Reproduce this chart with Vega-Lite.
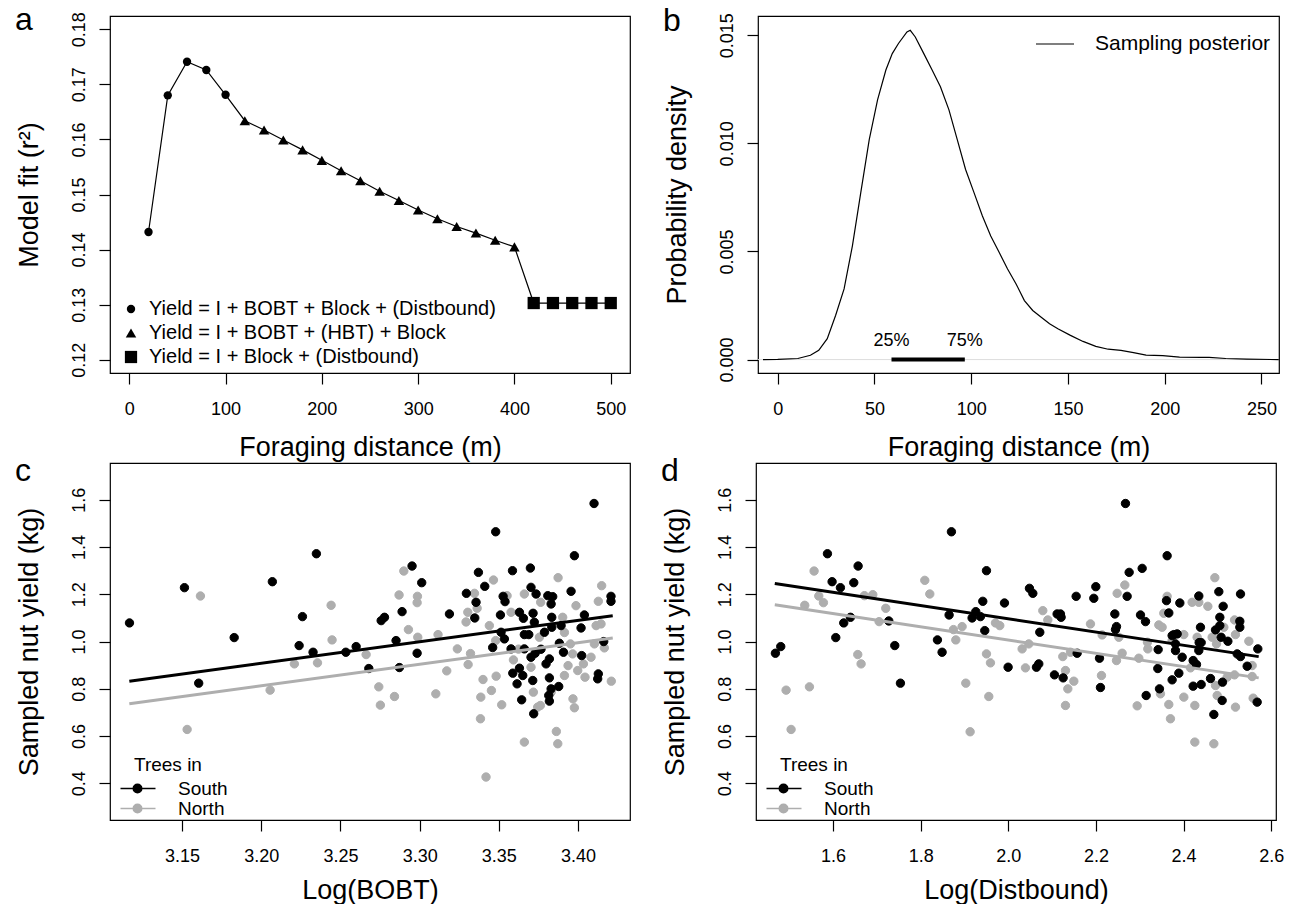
{
"$schema": "https://vega.github.io/schema/vega-lite/v6.json",
"padding": {"left": 14, "top": 3, "right": 0, "bottom": 0},
"background": "white",
"spacing": -7,
"resolve": {"scale": {"fill": "independent", "stroke": "independent", "shape": "independent", "size": "independent"}, "legend": {"fill": "independent", "stroke": "independent", "shape": "independent", "size": "independent"}},
"config": {
  "font": "Liberation Sans",
  "view": {"stroke": "black", "strokeWidth": 1.2},
  "axis": {"domain": false, "grid": false, "ticks": true, "tickColor": "black", "tickSize": 11, "tickWidth": 1.2,
    "labelFontSize": 18, "labelColor": "black", "titleFontSize": 27, "titleFontWeight": "normal", "titleColor": "black",
    "labelFont": "Liberation Sans", "titleFont": "Liberation Sans", "labelFlush": false, "labelOverlap": false, "labelBound": false},
  "axisY": {"labelAngle": -90, "labelAlign": "center", "labelBaseline": "bottom", "labelPadding": 11, "titlePadding": 27},
  "axisX": {"labelPadding": 16, "titlePadding": 16},
  "legend": {"labelFont": "Liberation Sans", "titleFont": "Liberation Sans", "labelColor": "black", "titleColor": "black", "titleFontWeight": "normal", "padding": 0, "labelLimit": 0},
  "title": {"anchor": "start", "frame": "bounds", "fontSize": 32, "fontWeight": "normal", "offset": -25, "baseline": "alphabetic", "color": "black", "font": "Liberation Sans"}
},
"datasets": {
  "fit": [
    {"d":20,"r2":0.1432,"model":"Yield = I + BOBT + Block + (Distbound)"},
    {"d":40,"r2":0.1680,"model":"Yield = I + BOBT + Block + (Distbound)"},
    {"d":60,"r2":0.1741,"model":"Yield = I + BOBT + Block + (Distbound)"},
    {"d":80,"r2":0.1726,"model":"Yield = I + BOBT + Block + (Distbound)"},
    {"d":100,"r2":0.1681,"model":"Yield = I + BOBT + Block + (Distbound)"},
    {"d":120,"r2":0.1634,"model":"Yield = I + BOBT + (HBT) + Block"},
    {"d":140,"r2":0.1617,"model":"Yield = I + BOBT + (HBT) + Block"},
    {"d":160,"r2":0.1599,"model":"Yield = I + BOBT + (HBT) + Block"},
    {"d":180,"r2":0.1581,"model":"Yield = I + BOBT + (HBT) + Block"},
    {"d":200,"r2":0.1562,"model":"Yield = I + BOBT + (HBT) + Block"},
    {"d":220,"r2":0.1543,"model":"Yield = I + BOBT + (HBT) + Block"},
    {"d":240,"r2":0.1525,"model":"Yield = I + BOBT + (HBT) + Block"},
    {"d":260,"r2":0.1506,"model":"Yield = I + BOBT + (HBT) + Block"},
    {"d":280,"r2":0.1489,"model":"Yield = I + BOBT + (HBT) + Block"},
    {"d":300,"r2":0.1472,"model":"Yield = I + BOBT + (HBT) + Block"},
    {"d":320,"r2":0.1456,"model":"Yield = I + BOBT + (HBT) + Block"},
    {"d":340,"r2":0.1442,"model":"Yield = I + BOBT + (HBT) + Block"},
    {"d":360,"r2":0.1430,"model":"Yield = I + BOBT + (HBT) + Block"},
    {"d":380,"r2":0.1417,"model":"Yield = I + BOBT + (HBT) + Block"},
    {"d":400,"r2":0.1405,"model":"Yield = I + BOBT + (HBT) + Block"},
    {"d":420,"r2":0.1303,"model":"Yield = I + Block + (Distbound)"},
    {"d":440,"r2":0.1303,"model":"Yield = I + Block + (Distbound)"},
    {"d":460,"r2":0.1303,"model":"Yield = I + Block + (Distbound)"},
    {"d":480,"r2":0.1303,"model":"Yield = I + Block + (Distbound)"},
    {"d":500,"r2":0.1303,"model":"Yield = I + Block + (Distbound)"}
  ],
  "dens": [
    {"x":-7.6,"density":0},{"x":0,"density":0.00001},{"x":10.4,"density":0.00005},{"x":16.9,"density":0.0002},{"x":21.2,"density":0.00043},
    {"x":25.6,"density":0.00097},{"x":29.9,"density":0.00204},{"x":34.3,"density":0.00327},{"x":38.6,"density":0.00526},{"x":42.9,"density":0.00771},
    {"x":47.3,"density":0.01017},{"x":51.6,"density":0.01201},{"x":55.9,"density":0.01339},{"x":59.2,"density":0.01415},{"x":62.4,"density":0.01462},
    {"x":66.8,"density":0.01515},{"x":68.5,"density":0.01523},{"x":71.1,"density":0.01492},{"x":75.5,"density":0.01415},{"x":79.8,"density":0.01339},
    {"x":84.1,"density":0.01262},{"x":88.5,"density":0.01155},{"x":92.8,"density":0.01017},{"x":97.1,"density":0.00879},{"x":101.5,"density":0.00771},
    {"x":105.8,"density":0.00664},{"x":110.1,"density":0.00572},{"x":114.5,"density":0.00495},{"x":118.8,"density":0.00419},{"x":123.2,"density":0.0035},
    {"x":127.5,"density":0.00273},{"x":131.8,"density":0.00227},{"x":136.2,"density":0.00196},{"x":140.5,"density":0.00166},{"x":144.8,"density":0.00143},
    {"x":151.3,"density":0.00112},{"x":157.8,"density":0.00084},{"x":164.4,"density":0.00061},{"x":170.8,"density":0.00048},{"x":177.4,"density":0.00043},
    {"x":183.9,"density":0.00032},{"x":190.4,"density":0.00021},{"x":199,"density":0.00018},{"x":207.7,"density":0.00011},{"x":218.6,"density":0.0001},
    {"x":223,"density":0.0001},{"x":231.6,"density":0.00005},{"x":242.4,"density":0.00002},{"x":259,"density":0}
  ],
  "baseline": [{"density": 0}],
  "quart": [{"x":58.8,"label":"25%"},{"x":96.7,"label":"75%"}],
  "fitC": [
    {"x":3.1167,"y":0.832,"g":"South"},{"x":3.4219,"y":1.1095,"g":"South"},
    {"x":3.1167,"y":0.736,"g":"North"},{"x":3.4219,"y":1.0152,"g":"North"}
  ],
  "fitD": [
    {"x":1.4669,"y":1.246,"g":"South"},{"x":2.5715,"y":0.936,"g":"South"},
    {"x":1.4669,"y":1.156,"g":"North"},{"x":2.5715,"y":0.846,"g":"North"}
  ],
  "treesC": [
    {"x":3.1616,"y":1.1927,"g":"North"},{"x":3.2209,"y":0.9052,"g":"North"},{"x":3.2355,"y":0.9095,"g":"North"},{"x":3.2056,"y":0.7939,"g":"North"},
    {"x":3.1532,"y":0.6275,"g":"North"},{"x":3.2441,"y":1.1533,"g":"North"},{"x":3.2447,"y":1.0067,"g":"North"},{"x":3.2662,"y":0.9447,"g":"North"},
    {"x":3.2742,"y":0.8080,"g":"North"},{"x":3.2752,"y":0.7305,"g":"North"},{"x":3.2841,"y":0.7671,"g":"North"},{"x":3.2870,"y":1.1970,"g":"North"},
    {"x":3.2900,"y":1.2984,"g":"North"},{"x":3.2929,"y":1.0504,"g":"North"},{"x":3.2986,"y":1.1913,"g":"North"},{"x":3.2984,"y":1.1645,"g":"North"},
    {"x":3.2988,"y":1.0180,"g":"North"},{"x":3.3102,"y":0.7784,"g":"North"},{"x":3.3116,"y":1.0293,"g":"North"},{"x":3.3171,"y":0.8756,"g":"North"},
    {"x":3.3238,"y":0.9687,"g":"North"},{"x":3.3304,"y":1.1237,"g":"North"},{"x":3.3293,"y":1.0828,"g":"North"},{"x":3.3306,"y":0.9024,"g":"North"},
    {"x":3.3321,"y":0.9489,"g":"North"},{"x":3.3346,"y":1.2040,"g":"North"},{"x":3.3363,"y":1.1406,"g":"North"},{"x":3.3386,"y":0.7643,"g":"North"},
    {"x":3.3384,"y":0.6727,"g":"North"},{"x":3.3400,"y":0.8390,"g":"North"},{"x":3.3419,"y":0.4260,"g":"North"},{"x":3.3440,"y":1.0673,"g":"North"},
    {"x":3.3453,"y":0.7925,"g":"North"},{"x":3.3466,"y":1.2604,"g":"North"},{"x":3.3483,"y":0.8531,"g":"North"},{"x":3.3480,"y":1.0039,"g":"North"},
    {"x":3.3518,"y":0.7319,"g":"North"},{"x":3.3552,"y":1.1941,"g":"North"},{"x":3.3577,"y":1.1237,"g":"North"},{"x":3.3592,"y":0.9221,"g":"North"},
    {"x":3.3661,"y":1.2012,"g":"North"},{"x":3.3661,"y":0.5740,"g":"North"},{"x":3.3718,"y":0.7854,"g":"North"},{"x":3.3703,"y":0.8911,"g":"North"},
    {"x":3.3745,"y":0.7220,"g":"North"},{"x":3.3762,"y":0.7291,"g":"North"},{"x":3.3764,"y":1.1660,"g":"North"},{"x":3.3830,"y":0.7854,"g":"North"},
    {"x":3.3863,"y":0.6191,"g":"North"},{"x":3.3872,"y":0.5669,"g":"North"},{"x":3.3874,"y":1.2703,"g":"North"},{"x":3.3914,"y":0.8559,"g":"North"},
    {"x":3.3903,"y":1.1025,"g":"North"},{"x":3.3937,"y":0.8980,"g":"North"},{"x":3.3952,"y":0.9898,"g":"North"},{"x":3.3968,"y":0.7572,"g":"North"},
    {"x":3.3977,"y":0.7192,"g":"North"},{"x":3.3987,"y":1.1518,"g":"North"},{"x":3.3966,"y":0.9475,"g":"North"},{"x":3.3998,"y":0.8770,"g":"North"},
    {"x":3.4034,"y":0.9052,"g":"North"},{"x":3.4044,"y":0.8489,"g":"North"},{"x":3.4082,"y":0.9334,"g":"North"},{"x":3.4103,"y":0.9898,"g":"North"},
    {"x":3.4114,"y":1.0673,"g":"North"},{"x":3.4128,"y":1.1702,"g":"North"},{"x":3.4149,"y":1.2364,"g":"North"},{"x":3.4145,"y":1.0744,"g":"North"},
    {"x":3.4166,"y":0.9729,"g":"North"},{"x":3.4210,"y":0.8319,"g":"North"},{"x":3.3624,"y":0.9677,"g":"North"},{"x":3.3756,"y":1.0180,"g":"North"},
    {"x":3.3914,"y":1.0380,"g":"North"},
    {"x":3.1168,"y":1.0786,"g":"South"},{"x":3.1515,"y":1.2280,"g":"South"},{"x":3.2070,"y":1.2533,"g":"South"},{"x":3.2348,"y":1.3717,"g":"South"},
    {"x":3.1829,"y":1.0166,"g":"South"},{"x":3.2260,"y":1.1054,"g":"South"},{"x":3.2239,"y":0.9828,"g":"South"},{"x":3.2327,"y":0.9545,"g":"South"},
    {"x":3.1605,"y":0.8235,"g":"South"},{"x":3.2534,"y":0.9545,"g":"South"},{"x":3.2599,"y":0.9785,"g":"South"},{"x":3.2679,"y":0.8855,"g":"South"},
    {"x":3.2757,"y":1.0884,"g":"South"},{"x":3.2778,"y":1.1025,"g":"South"},{"x":3.2851,"y":1.0039,"g":"South"},{"x":3.2872,"y":0.8897,"g":"South"},
    {"x":3.2889,"y":1.1265,"g":"South"},{"x":3.2952,"y":1.3196,"g":"South"},{"x":3.2984,"y":0.9503,"g":"South"},{"x":3.3013,"y":1.2491,"g":"South"},
    {"x":3.3188,"y":1.1166,"g":"South"},{"x":3.3295,"y":1.2040,"g":"South"},{"x":3.3348,"y":1.0997,"g":"South"},{"x":3.3356,"y":1.1660,"g":"South"},
    {"x":3.3371,"y":1.2928,"g":"South"},{"x":3.3411,"y":1.2336,"g":"South"},{"x":3.3461,"y":0.9743,"g":"South"},{"x":3.3480,"y":1.4647,"g":"South"},
    {"x":3.3510,"y":1.1124,"g":"South"},{"x":3.3514,"y":1.0391,"g":"South"},{"x":3.3527,"y":1.1913,"g":"South"},{"x":3.3539,"y":1.1688,"g":"South"},
    {"x":3.3535,"y":1.0109,"g":"South"},{"x":3.3586,"y":1.2999,"g":"South"},{"x":3.3577,"y":0.9687,"g":"South"},{"x":3.3588,"y":0.8658,"g":"South"},
    {"x":3.3615,"y":0.8207,"g":"South"},{"x":3.3630,"y":1.1237,"g":"South"},{"x":3.3630,"y":0.8869,"g":"South"},{"x":3.3644,"y":0.7530,"g":"South"},
    {"x":3.3655,"y":1.0983,"g":"South"},{"x":3.3661,"y":0.9687,"g":"South"},{"x":3.3651,"y":0.8559,"g":"South"},{"x":3.3661,"y":1.0293,"g":"South"},
    {"x":3.3689,"y":1.0293,"g":"South"},{"x":3.3699,"y":1.3111,"g":"South"},{"x":3.3703,"y":1.2294,"g":"South"},{"x":3.3716,"y":1.1195,"g":"South"},
    {"x":3.3724,"y":1.0814,"g":"South"},{"x":3.3714,"y":0.8348,"g":"South"},{"x":3.3720,"y":0.6938,"g":"South"},{"x":3.3735,"y":1.2012,"g":"South"},
    {"x":3.3703,"y":0.9334,"g":"South"},{"x":3.3729,"y":0.9503,"g":"South"},{"x":3.3766,"y":0.9672,"g":"South"},{"x":3.3788,"y":1.0391,"g":"South"},
    {"x":3.3798,"y":0.9052,"g":"South"},{"x":3.3809,"y":1.1941,"g":"South"},{"x":3.3819,"y":0.9263,"g":"South"},{"x":3.3819,"y":0.8460,"g":"South"},
    {"x":3.3830,"y":1.1589,"g":"South"},{"x":3.3840,"y":1.1899,"g":"South"},{"x":3.3834,"y":1.1025,"g":"South"},{"x":3.3834,"y":1.0603,"g":"South"},
    {"x":3.3819,"y":0.7474,"g":"South"},{"x":3.3815,"y":0.7713,"g":"South"},{"x":3.3830,"y":0.7995,"g":"South"},{"x":3.3878,"y":0.8094,"g":"South"},
    {"x":3.3882,"y":0.9926,"g":"South"},{"x":3.3893,"y":1.0673,"g":"South"},{"x":3.3908,"y":0.9545,"g":"South"},{"x":3.3956,"y":1.2125,"g":"South"},
    {"x":3.3977,"y":1.3633,"g":"South"},{"x":3.4019,"y":1.0574,"g":"South"},{"x":3.4023,"y":0.9404,"g":"South"},{"x":3.4040,"y":1.1124,"g":"South"},
    {"x":3.4101,"y":1.5845,"g":"South"},{"x":3.4124,"y":0.8418,"g":"South"},{"x":3.4128,"y":0.8629,"g":"South"},{"x":3.4162,"y":0.9997,"g":"South"},
    {"x":3.4208,"y":1.1913,"g":"South"},{"x":3.4208,"y":1.1702,"g":"South"}
  ],
  "treesD": [
    {"x":1.4927,"y":0.7939,"g":"North"},{"x":1.5041,"y":0.6275,"g":"North"},{"x":1.5460,"y":0.8080,"g":"North"},{"x":1.5353,"y":1.1533,"g":"North"},
    {"x":1.5566,"y":1.2984,"g":"North"},{"x":1.5673,"y":1.1927,"g":"North"},{"x":1.5779,"y":1.1645,"g":"North"},{"x":1.6715,"y":1.1941,"g":"North"},
    {"x":1.6906,"y":1.1984,"g":"North"},{"x":1.6563,"y":0.9447,"g":"North"},{"x":1.6639,"y":0.9052,"g":"North"},{"x":1.7050,"y":1.0842,"g":"North"},
    {"x":1.7202,"y":1.1406,"g":"North"},{"x":1.8093,"y":1.2590,"g":"North"},{"x":1.8207,"y":1.2012,"g":"North"},{"x":1.8747,"y":1.0504,"g":"North"},
    {"x":1.8801,"y":1.0067,"g":"North"},{"x":1.8945,"y":1.0631,"g":"North"},{"x":1.9029,"y":0.8235,"g":"North"},{"x":1.9128,"y":0.6177,"g":"North"},
    {"x":1.9501,"y":0.9475,"g":"North"},{"x":1.9592,"y":0.9095,"g":"North"},{"x":1.9554,"y":0.7671,"g":"North"},{"x":1.9706,"y":1.0786,"g":"North"},
    {"x":1.9805,"y":1.0673,"g":"North"},{"x":2.0315,"y":0.9687,"g":"North"},{"x":2.0391,"y":0.8883,"g":"North"},{"x":2.0467,"y":0.9898,"g":"North"},
    {"x":2.0787,"y":1.1307,"g":"North"},{"x":2.0901,"y":1.0913,"g":"North"},{"x":2.1243,"y":0.9362,"g":"North"},{"x":2.1304,"y":0.8770,"g":"North"},
    {"x":2.1304,"y":0.7291,"g":"North"},{"x":2.1358,"y":0.7995,"g":"North"},{"x":2.1495,"y":0.8319,"g":"North"},{"x":2.1418,"y":0.9545,"g":"North"},
    {"x":2.1875,"y":1.0744,"g":"North"},{"x":2.2126,"y":0.8559,"g":"North"},{"x":2.2142,"y":1.0278,"g":"North"},{"x":2.2484,"y":1.2040,"g":"North"},
    {"x":2.2522,"y":1.0180,"g":"North"},{"x":2.2659,"y":1.2392,"g":"North"},{"x":2.2598,"y":0.9503,"g":"North"},{"x":2.2469,"y":0.9193,"g":"North"},
    {"x":2.2941,"y":0.7276,"g":"North"},{"x":2.2979,"y":0.9292,"g":"North"},{"x":2.3176,"y":0.9968,"g":"North"},{"x":2.3184,"y":0.9687,"g":"North"},
    {"x":2.3435,"y":1.0701,"g":"North"},{"x":2.3511,"y":1.0603,"g":"North"},{"x":2.3473,"y":0.7784,"g":"North"},{"x":2.3549,"y":1.1195,"g":"North"},
    {"x":2.3625,"y":1.1913,"g":"North"},{"x":2.3663,"y":0.7333,"g":"North"},{"x":2.3701,"y":0.6727,"g":"North"},{"x":2.3739,"y":1.0039,"g":"North"},
    {"x":2.4006,"y":0.7643,"g":"North"},{"x":2.4006,"y":1.0293,"g":"North"},{"x":2.4158,"y":0.8883,"g":"North"},{"x":2.4196,"y":1.1660,"g":"North"},
    {"x":2.4257,"y":0.7291,"g":"North"},{"x":2.4257,"y":0.5740,"g":"North"},{"x":2.4310,"y":1.0180,"g":"North"},{"x":2.4348,"y":1.1660,"g":"North"},
    {"x":2.4554,"y":1.1490,"g":"North"},{"x":2.4691,"y":0.5669,"g":"North"},{"x":2.4714,"y":1.2703,"g":"North"},{"x":2.4729,"y":0.8136,"g":"North"},
    {"x":2.4767,"y":0.7713,"g":"North"},{"x":2.4653,"y":1.0180,"g":"North"},{"x":2.4995,"y":0.8489,"g":"North"},{"x":2.5163,"y":0.8587,"g":"North"},
    {"x":2.5185,"y":0.7220,"g":"North"},{"x":2.5163,"y":1.0913,"g":"North"},{"x":2.5185,"y":1.0293,"g":"North"},{"x":2.5490,"y":1.0011,"g":"North"},
    {"x":2.5566,"y":0.8517,"g":"North"},{"x":2.5566,"y":0.8982,"g":"North"},{"x":2.5589,"y":0.7601,"g":"North"},{"x":2.4919,"y":1.0603,"g":"North"},
    {"x":2.4752,"y":0.9898,"g":"North"},
    {"x":1.4683,"y":0.9503,"g":"South"},{"x":1.4805,"y":0.9785,"g":"South"},{"x":1.5871,"y":1.3717,"g":"South"},{"x":1.5977,"y":1.2533,"g":"South"},
    {"x":1.6167,"y":1.2280,"g":"South"},{"x":1.6472,"y":1.2491,"g":"South"},{"x":1.6571,"y":1.3196,"g":"South"},{"x":1.6243,"y":1.0786,"g":"South"},
    {"x":1.6396,"y":1.1025,"g":"South"},{"x":1.6061,"y":1.0166,"g":"South"},{"x":1.7271,"y":1.0870,"g":"South"},{"x":1.7408,"y":0.9828,"g":"South"},
    {"x":1.7537,"y":0.8235,"g":"South"},{"x":1.8701,"y":1.4647,"g":"South"},{"x":1.8382,"y":1.0067,"g":"South"},{"x":1.8488,"y":0.9545,"g":"South"},
    {"x":1.8648,"y":1.1124,"g":"South"},{"x":1.9173,"y":1.0997,"g":"South"},{"x":1.9257,"y":1.1265,"g":"South"},{"x":1.9363,"y":1.1054,"g":"South"},
    {"x":1.9417,"y":1.1702,"g":"South"},{"x":1.9462,"y":1.0462,"g":"South"},{"x":1.9501,"y":1.2999,"g":"South"},
    {"x":1.9912,"y":1.1631,"g":"South"},{"x":1.9995,"y":0.8911,"g":"South"},{"x":2.0482,"y":1.2252,"g":"South"},{"x":2.0559,"y":1.2040,"g":"South"},
    {"x":2.0718,"y":1.0391,"g":"South"},{"x":2.0642,"y":0.8911,"g":"South"},{"x":2.0695,"y":0.9052,"g":"South"},{"x":2.1053,"y":0.8587,"g":"South"},
    {"x":2.1114,"y":1.1166,"g":"South"},{"x":2.1190,"y":1.1166,"g":"South"},{"x":2.1205,"y":1.1025,"g":"South"},{"x":2.1251,"y":0.8460,"g":"South"},
    {"x":2.1548,"y":1.1913,"g":"South"},{"x":2.1571,"y":0.9503,"g":"South"},{"x":2.1951,"y":1.1829,"g":"South"},{"x":2.1997,"y":1.2322,"g":"South"},
    {"x":2.2081,"y":0.9292,"g":"South"},{"x":2.2103,"y":0.8051,"g":"South"},{"x":2.2431,"y":1.1166,"g":"South"},{"x":2.2469,"y":1.0631,"g":"South"},
    {"x":2.2446,"y":1.0504,"g":"South"},{"x":2.2674,"y":1.5845,"g":"South"},{"x":2.2712,"y":1.1913,"g":"South"},{"x":2.2758,"y":1.2928,"g":"South"},
    {"x":2.3055,"y":1.3097,"g":"South"},{"x":2.3017,"y":1.1124,"g":"South"},{"x":2.3131,"y":1.0842,"g":"South"},{"x":2.3146,"y":0.7713,"g":"South"},
    {"x":2.3420,"y":0.9658,"g":"South"},{"x":2.3412,"y":0.8855,"g":"South"},{"x":2.3450,"y":0.7995,"g":"South"},{"x":2.3610,"y":1.1730,"g":"South"},
    {"x":2.3625,"y":1.3633,"g":"South"},{"x":2.3663,"y":1.1209,"g":"South"},{"x":2.3915,"y":1.1631,"g":"South"},{"x":2.3739,"y":0.8376,"g":"South"},
    {"x":2.3739,"y":1.0250,"g":"South"},{"x":2.3778,"y":1.0293,"g":"South"},{"x":2.3854,"y":1.0321,"g":"South"},{"x":2.3816,"y":0.9898,"g":"South"},
    {"x":2.3816,"y":0.9616,"g":"South"},{"x":2.3892,"y":0.8658,"g":"South"},{"x":2.3968,"y":0.9334,"g":"South"},{"x":2.4219,"y":0.9193,"g":"South"},
    {"x":2.4295,"y":0.9024,"g":"South"},{"x":2.4348,"y":1.1927,"g":"South"},{"x":2.4386,"y":1.0603,"g":"South"},{"x":2.4356,"y":0.9954,"g":"South"},
    {"x":2.4348,"y":0.9616,"g":"South"},{"x":2.4402,"y":0.9954,"g":"South"},{"x":2.4219,"y":0.8108,"g":"South"},{"x":2.4402,"y":0.8179,"g":"South"},
    {"x":2.4615,"y":0.8432,"g":"South"},{"x":2.4691,"y":0.6910,"g":"South"},{"x":2.4729,"y":1.0490,"g":"South"},{"x":2.4805,"y":1.2111,"g":"South"},
    {"x":2.4828,"y":1.1025,"g":"South"},{"x":2.4828,"y":1.0673,"g":"South"},{"x":2.4904,"y":1.1490,"g":"South"},{"x":2.4858,"y":1.0180,"g":"South"},
    {"x":2.4889,"y":0.8277,"g":"South"},{"x":2.4881,"y":0.7502,"g":"South"},{"x":2.5011,"y":1.0011,"g":"South"},{"x":2.5224,"y":0.9475,"g":"South"},
    {"x":2.5300,"y":0.9362,"g":"South"},{"x":2.5284,"y":1.0856,"g":"South"},{"x":2.5284,"y":1.0603,"g":"South"},{"x":2.5300,"y":1.2012,"g":"South"},
    {"x":2.5452,"y":0.8954,"g":"South"},{"x":2.5695,"y":0.9687,"g":"South"},{"x":2.5680,"y":0.7431,"g":"South"}
  ]
},
"vconcat": [
  {"spacing": 31,
   "resolve": {"scale": {"fill": "independent", "stroke": "independent", "shape": "independent", "size": "independent"}, "legend": {"fill": "independent", "stroke": "independent", "shape": "independent", "size": "independent"}},
   "hconcat": [
    {
      "title": {"text": "a"},
      "width": 520, "height": 357,
      "data": {"name": "fit"},
      "encoding": {
        "x": {"field": "d", "type": "quantitative", "title": "Foraging distance (m)", "scale": {"domain": [-20, 520], "nice": false, "zero": false}, "axis": {"values": [0,100,200,300,400,500]}},
        "y": {"field": "r2", "type": "quantitative", "title": "Model fit (r²)", "scale": {"domain": [0.1176, 0.1824], "nice": false, "zero": false}, "axis": {"values": [0.12,0.13,0.14,0.15,0.16,0.17,0.18], "format": ".2f"}}
      },
      "layer": [
        {"mark": {"type": "line", "color": "black", "strokeWidth": 1.2}},
        {"mark": {"type": "point", "filled": true, "opacity": 1, "color": "black"},
         "encoding": {
           "shape": {"field": "model", "type": "nominal", "title": null,
             "scale": {"domain": ["Yield = I + BOBT + Block + (Distbound)", "Yield = I + BOBT + (HBT) + Block", "Yield = I + Block + (Distbound)"], "range": ["circle", "triangle-up", "square"]},
             "legend": {"title": null, "orient": "none", "legendX": 11, "legendY": 283, "labelFontSize": 20, "symbolFillColor": "black", "symbolStrokeColor": "black", "symbolStrokeWidth": 0, "labelOffset": 8, "rowPadding": 4, "padding": 0}},
           "size": {"field": "model", "type": "nominal", "title": null,
             "scale": {"domain": ["Yield = I + BOBT + Block + (Distbound)", "Yield = I + BOBT + (HBT) + Block", "Yield = I + Block + (Distbound)"], "range": [70, 150, 85]},
             "legend": {"title": null, "orient": "none", "legendX": 11, "legendY": 283, "labelFontSize": 20, "symbolFillColor": "black", "symbolStrokeColor": "black", "symbolStrokeWidth": 0, "labelOffset": 8, "rowPadding": 4, "padding": 0}}
         }}
      ]
    },
    {
      "title": {"text": "b"},
      "width": 521, "height": 357,
      "layer": [
        {"data": {"name": "baseline"}, "mark": {"type": "rule", "color": "#DDDDDD", "strokeWidth": 1},
         "encoding": {"y": {"field": "density", "type": "quantitative", "title": "Probability density"}}},
        {"data": {"name": "dens"}, "mark": {"type": "line", "strokeWidth": 1.2, "clip": true},
         "encoding": {
           "x": {"field": "x", "type": "quantitative", "title": "Foraging distance (m)", "scale": {"domain": [-10.2, 259.1], "nice": false, "zero": false}, "axis": {"values": [0,50,100,150,200,250]}},
           "y": {"field": "density", "type": "quantitative", "title": "Probability density", "scale": {"domain": [-0.00062, 0.01589], "nice": false, "zero": false}, "axis": {"values": [0, 0.005, 0.01, 0.015], "format": ".3f"}},
           "stroke": {"datum": "Sampling posterior", "type": "nominal", "scale": {"range": ["black"]},
             "legend": {"title": null, "orient": "top-right", "offset": 8, "labelFontSize": 21, "symbolType": "stroke", "symbolSize": 1444, "symbolStrokeWidth": 1.2, "labelOffset": 20, "padding": 0}}
         }},
        {"data": {"name": "quart"}, "mark": {"type": "rule", "color": "black", "strokeWidth": 4},
         "encoding": {
           "x": {"aggregate": "min", "field": "x", "type": "quantitative", "title": "Foraging distance (m)"},
           "x2": {"aggregate": "max", "field": "x"},
           "y": {"datum": 0}
         }},
        {"data": {"name": "quart"}, "mark": {"type": "text", "fontSize": 18, "dy": -19, "baseline": "middle", "color": "black"},
         "encoding": {
           "x": {"field": "x", "type": "quantitative", "title": "Foraging distance (m)"},
           "y": {"datum": 0},
           "text": {"field": "label"}
         }}
      ]
    }
  ]},
  {"spacing": 29,
   "resolve": {"scale": {"fill": "independent", "stroke": "independent", "shape": "independent"}, "legend": {"fill": "independent", "stroke": "independent", "shape": "independent"}},
   "hconcat": [
    {
      "title": {"text": "c"},
      "width": 520, "height": 357,
      "layer": [
        {"data": {"name": "treesC"}, "mark": {"type": "point", "filled": true, "size": 70, "strokeWidth": 1, "opacity": 1},
         "encoding": {
           "x": {"field": "x", "type": "quantitative", "title": "Log(BOBT)", "scale": {"domain": [3.1045, 3.4328], "nice": false, "zero": false}, "axis": {"values": [3.15,3.2,3.25,3.3,3.35,3.4], "format": ".2f", "titlePadding": 12}},
           "y": {"field": "y", "type": "quantitative", "title": "Sampled nut yield (kg)", "scale": {"domain": [0.244, 1.756], "nice": false, "zero": false}, "axis": {"values": [0.4,0.6,0.8,1.0,1.2,1.4,1.6], "format": ".1f"}},
           "fill": {"field": "g", "type": "nominal", "title": "Trees in", "scale": {"domain": ["South","North"], "range": ["#000000","#AEAEAE"]},
             "legend": {"orient": "none", "legendX": 24, "legendY": 293, "titleFontSize": 19, "labelFontSize": 19, "symbolType": "M-4.6,0L2.4,0M-0.35,0A0.85,0.85,0,1,1,-2.05,0A0.85,0.85,0,1,1,-0.35,0Z", "symbolSize": 100, "symbolStrokeWidth": 1.5, "labelOffset": 25, "rowPadding": 0, "titlePadding": 4, "padding": 0}},
           "stroke": {"field": "g", "type": "nominal", "title": "Trees in", "scale": {"domain": ["South","North"], "range": ["#000000","#AEAEAE"]},
             "legend": {"orient": "none", "legendX": 24, "legendY": 293, "titleFontSize": 19, "labelFontSize": 19, "symbolType": "M-4.6,0L2.4,0M-0.35,0A0.85,0.85,0,1,1,-2.05,0A0.85,0.85,0,1,1,-0.35,0Z", "symbolSize": 100, "symbolStrokeWidth": 1.5, "labelOffset": 25, "rowPadding": 0, "titlePadding": 4, "padding": 0}}
         }},
        {"data": {"name": "fitC"}, "mark": {"type": "line", "strokeWidth": 3},
         "encoding": {
           "x": {"field": "x", "type": "quantitative", "title": "Log(BOBT)"},
           "y": {"field": "y", "type": "quantitative", "title": "Sampled nut yield (kg)"},
           "stroke": {"field": "g", "type": "nominal", "title": "Trees in"}
         }}
      ]
    },
    {
      "title": {"text": "d"},
      "width": 520, "height": 357,
      "layer": [
        {"data": {"name": "treesD"}, "mark": {"type": "point", "filled": true, "size": 70, "strokeWidth": 1, "opacity": 1},
         "encoding": {
           "x": {"field": "x", "type": "quantitative", "title": "Log(Distbound)", "scale": {"domain": [1.424, 2.611], "nice": false, "zero": false}, "axis": {"values": [1.6,1.8,2.0,2.2,2.4,2.6], "format": ".1f", "titlePadding": 12}},
           "y": {"field": "y", "type": "quantitative", "title": "Sampled nut yield (kg)", "scale": {"domain": [0.244, 1.756], "nice": false, "zero": false}, "axis": {"values": [0.4,0.6,0.8,1.0,1.2,1.4,1.6], "format": ".1f"}},
           "fill": {"field": "g", "type": "nominal", "title": "Trees in", "scale": {"domain": ["South","North"], "range": ["#000000","#AEAEAE"]},
             "legend": {"orient": "none", "legendX": 24, "legendY": 293, "titleFontSize": 19, "labelFontSize": 19, "symbolType": "M-4.6,0L2.4,0M-0.35,0A0.85,0.85,0,1,1,-2.05,0A0.85,0.85,0,1,1,-0.35,0Z", "symbolSize": 100, "symbolStrokeWidth": 1.5, "labelOffset": 25, "rowPadding": 0, "titlePadding": 4, "padding": 0}},
           "stroke": {"field": "g", "type": "nominal", "title": "Trees in", "scale": {"domain": ["South","North"], "range": ["#000000","#AEAEAE"]},
             "legend": {"orient": "none", "legendX": 24, "legendY": 293, "titleFontSize": 19, "labelFontSize": 19, "symbolType": "M-4.6,0L2.4,0M-0.35,0A0.85,0.85,0,1,1,-2.05,0A0.85,0.85,0,1,1,-0.35,0Z", "symbolSize": 100, "symbolStrokeWidth": 1.5, "labelOffset": 25, "rowPadding": 0, "titlePadding": 4, "padding": 0}}
         }},
        {"data": {"name": "fitD"}, "mark": {"type": "line", "strokeWidth": 3},
         "encoding": {
           "x": {"field": "x", "type": "quantitative", "title": "Log(Distbound)"},
           "y": {"field": "y", "type": "quantitative", "title": "Sampled nut yield (kg)"},
           "stroke": {"field": "g", "type": "nominal", "title": "Trees in"}
         }}
      ]
    }
  ]}
]
}
